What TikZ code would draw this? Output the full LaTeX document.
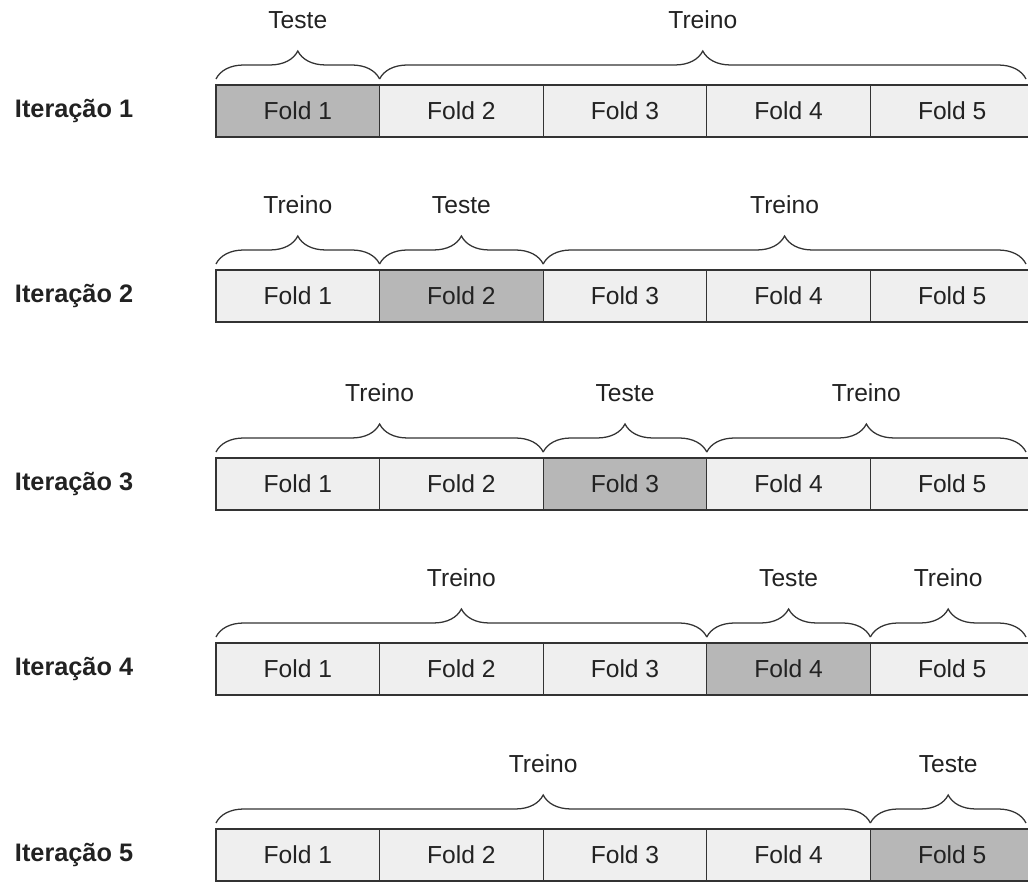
\documentclass[tikz,border=0pt]{standalone}
\usepackage{fontspec}
\setmainfont{Liberation Sans}
\usetikzlibrary{decorations.pathreplacing}
\definecolor{foldlight}{HTML}{EFEFEF}
\definecolor{folddark}{HTML}{B7B7B7}
\definecolor{txt}{HTML}{222222}

\begin{document}
\begin{tikzpicture}[x=0.025cm,y=-0.025cm,
  fold/.style={draw=black!80,line width=0.9pt,fill=foldlight,minimum width=4.09cm,minimum height=1.3cm,inner sep=0pt,outer sep=0pt,font=\fontsize{17.5}{20}\selectfont,text=txt},
  chave/.style={decorate,decoration={brace,amplitude=0.7cm,raise=0.15cm},line width=0.9pt,draw=black!80},
  rotulo/.style={font=\fontsize{17.5}{20}\selectfont,text=txt},
  iter/.style={font=\bfseries\fontsize{18}{20}\selectfont,text=txt,anchor=west}]
\useasboundingbox (0,0) rectangle (1028,886);
\clip (0,0) rectangle (1028,886);

% folds of each iteration
\foreach \i/\y in {1/85,2/270,3/458,4/643,5/829} {
  \node[iter] (it\i) at (10,\y+26) {Iteração \i};
  \coordinate (e\i) at (1026,\y);
  \foreach \j in {1,...,5} {
    \ifnum\i=\j \def\cor{folddark}\else\def\cor{foldlight}\fi
    \node[fold,fill=\cor] (f\i\j) at (216+163.6*\j-81.8,\y+26) {Fold \j};
  }
}

% braces: row/first/last/label
\foreach \i/\a/\b/\t in {1/1/1/Teste,1/2/5/Treino,
    2/1/1/Treino,2/2/2/Teste,2/3/5/Treino,
    3/1/2/Treino,3/3/3/Teste,3/4/5/Treino,
    4/1/3/Treino,4/4/4/Teste,4/5/5/Treino,
    5/1/4/Treino,5/5/5/Teste} {
  \ifnum\b=5 \def\fim{e\i}\else\def\fim{f\i\b.north east}\fi
  \draw[chave] (f\i\a.north west) -- node[rotulo,yshift=1.62cm] {\t} (\fim);
}
\end{tikzpicture}
\end{document}
